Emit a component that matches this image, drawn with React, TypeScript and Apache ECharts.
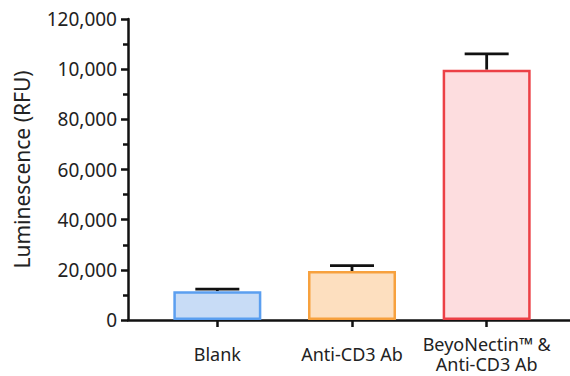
import React, { useEffect, useRef } from "react";
import * as echarts from "echarts";

const categories = ["Blank", "Anti-CD3 Ab", "BeyoNectin™ &\nAnti-CD3 Ab"];
const means = [11500, 19500, 99800];
const errors = [800, 2200, 6300];
const fillColors = ["#c8dcf6", "#fddfbf", "#fddddf"];
const strokeColors = ["#5b9ff0", "#f7a13e", "#ec4046"];
const yTickValues = [0, 20000, 40000, 60000, 80000, 100000, 120000];
const yTickLabels = ["0", "20,000", "40,000", "60,000", "80,000", "10,000", "120,000"];

const FONT = "Noto Sans";

export default function App() {
  const ref = useRef<HTMLDivElement>(null);
  useEffect(() => {
    if (!ref.current) return;
    const chart = echarts.init(ref.current, undefined, { renderer: "svg" });
    const option: any = {
      animation: false,
      grid: [
        { left: 150, right: 16, top: 19, bottom: 56, containLabel: false, outerBoundsMode: "none" },
        { left: 128, right: 0, top: 19, bottom: 56, containLabel: false, outerBoundsMode: "none" },
      ],
      xAxis: [
        {
          type: "category",
          gridIndex: 0,
          data: categories,
          axisLine: { show: false },
          axisTick: { show: true, alignWithLabel: true, length: 7, lineStyle: { color: "#111", width: 2.5 } },
          axisLabel: {
            color: "#222",
            fontFamily: FONT,
            fontSize: 18,
            lineHeight: 20,
            margin: 34,
            verticalAlign: "middle",
            interval: 0,
          },
        },
        {
          type: "value",
          gridIndex: 1,
          min: 0,
          max: 1,
          axisLine: { show: true, lineStyle: { color: "#111", width: 2.5 } },
          axisTick: { show: false },
          axisLabel: { show: false },
          splitLine: { show: false },
        },
      ],
      yAxis: [
        {
          type: "value",
          gridIndex: 0,
          min: 0,
          max: 120000,
          interval: 20000,
          offset: 22,
          name: "Luminescence (RFU)",
          nameLocation: "middle",
          nameGap: 96,
          nameTextStyle: { color: "#222", fontFamily: FONT, fontSize: 21 },
          axisLine: { show: true, lineStyle: { color: "#111", width: 2.5 } },
          axisTick: { show: true, length: 7, lineStyle: { color: "#111", width: 2.5 } },
          minorTick: { show: true, splitNumber: 2, length: 5, lineStyle: { color: "#111", width: 2.5 } },
          splitLine: { show: false },
          axisLabel: {
            color: "#222",
            fontFamily: FONT,
            fontSize: 19,
            margin: 11,
            formatter: (v: number) => {
              const i = yTickValues.indexOf(v);
              return i >= 0 ? yTickLabels[i] : "";
            },
          },
        },
        {
          type: "value",
          gridIndex: 1,
          min: 0,
          max: 120000,
          show: false,
        },
      ],
      series: [
        {
          type: "bar",
          xAxisIndex: 0,
          yAxisIndex: 0,
          barWidth: 88,
          data: means.map((v, i) => ({
            value: v,
            itemStyle: { color: fillColors[i], borderColor: strokeColors[i], borderWidth: 2.5 },
          })),
          z: 2,
        },
        {
          type: "custom",
          xAxisIndex: 0,
          yAxisIndex: 0,
          z: 1,
          data: means.map((v, i) => [i, v, v + errors[i]]),
          renderItem: (params: any, api: any) => {
            const x = api.value(0);
            const lo = api.coord([x, api.value(1)]);
            const hi = api.coord([x, api.value(2)]);
            const half = 22;
            const style = { stroke: "#111", lineWidth: 2.8 };
            return {
              type: "group",
              children: [
                { type: "line", shape: { x1: lo[0], y1: lo[1], x2: hi[0], y2: hi[1] }, style },
                { type: "line", shape: { x1: hi[0] - half, y1: hi[1], x2: hi[0] + half, y2: hi[1] }, style },
              ],
            };
          },
        },
      ],
    };
    chart.setOption(option);
    return () => chart.dispose();
  }, []);
  return <div ref={ref} style={{ width: 570, height: 376, position: "absolute", left: 0, top: 0, background: "#fff" }} />;
}
